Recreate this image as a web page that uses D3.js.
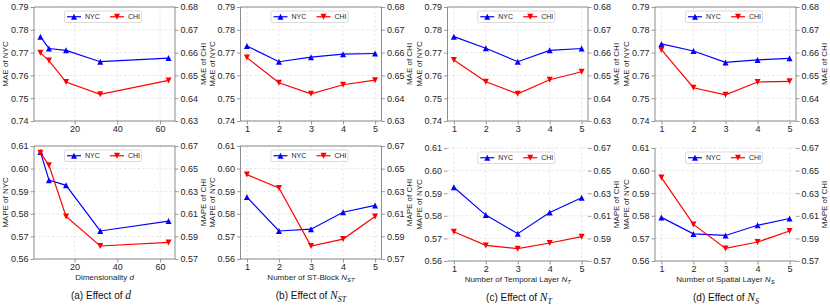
<!DOCTYPE html>
<html><head><meta charset="utf-8">
<script src="https://cdn.jsdelivr.net/npm/d3@7"></script>
<style>body{margin:0;background:#fff} svg{display:block}</style>
</head><body><svg id="c" width="830" height="307"></svg>
<script>
// ---------- data ----------
const dimX = [4, 8, 16, 32, 64];
const layerX = [1, 2, 3, 4, 5];
const dimTicks = [20, 40, 60];
const layerTicks = [1, 2, 3, 4, 5];
const maeNycTicks = [0.74, 0.75, 0.76, 0.77, 0.78, 0.79];
const maeChiTicks = [0.63, 0.64, 0.65, 0.66, 0.67, 0.68];
const mapeNycTicks = [0.56, 0.57, 0.58, 0.59, 0.60, 0.61];
const mapeChiTicks = [0.57, 0.59, 0.61, 0.63, 0.65, 0.67];
const seriesNames = ["NYC", "CHI"];

const maeNYC_d   = [0.7770, 0.7718, 0.7710, 0.7660, 0.7676];
const maeCHI_d   = [0.6599, 0.6565, 0.6471, 0.6417, 0.6478];
const maeNYC_NST = [0.7729, 0.7660, 0.7680, 0.7693, 0.7696];
const maeCHI_NST = [0.6578, 0.6468, 0.6419, 0.6459, 0.6479];
const maeNYC_NT  = [0.7770, 0.7719, 0.7660, 0.7710, 0.7718];
const maeCHI_NT  = [0.6568, 0.6472, 0.6419, 0.6481, 0.6516];
const maeNYC_NS  = [0.7738, 0.7707, 0.7657, 0.7668, 0.7675];
const maeCHI_NS  = [0.6613, 0.6446, 0.6415, 0.6471, 0.6474];

const mapeNYC_d   = [0.6074, 0.5949, 0.5926, 0.5724, 0.5768];
const mapeCHI_d   = [0.6641, 0.6529, 0.6076, 0.5815, 0.5847];
const mapeNYC_NST = [0.5874, 0.5724, 0.5732, 0.5807, 0.5837];
const mapeCHI_NST = [0.6447, 0.6329, 0.5815, 0.5876, 0.6076];
const mapeNYC_NT  = [0.5926, 0.5803, 0.5721, 0.5815, 0.5880];
const mapeCHI_NT  = [0.5959, 0.5838, 0.5809, 0.5859, 0.5915];
const mapeNYC_NS  = [0.5793, 0.5720, 0.5713, 0.5758, 0.5788];
const mapeCHI_NS  = [0.6438, 0.6024, 0.5811, 0.5868, 0.5965];

// ---------- layout ----------
const cols = [{l:34, r:175}, {l:240.5, r:381.5}, {l:447.5, r:588}, {l:655, r:796}];
const rowsTop = [{t:7, b:121}, {t:7, b:121}, {t:7, b:121}, {t:7, b:121}];
const rowsBot = [{t:146, b:259}, {t:146, b:259}, {t:148, b:261}, {t:148, b:261}];
const capCx = [101, 311, 519, 726];

const SANS = "'Liberation Sans', Arial, sans-serif";
const SERIF = "'Liberation Serif', 'Times New Roman', serif";
const BLUE = "#0000ff", RED = "#ff0000";
const SPINE = "#808080", TXT = "#262626";

const xSets = [
  {x: dimX, ticks: dimTicks, label: [["Dimensionality ", false], ["d", true]], cap: [["(a) Effect of ", false, false], ["d", true, false]]},
  {x: layerX, ticks: layerTicks, label: [["Number of ST-Block ", false], ["N", true], ["ST", true, true]], cap: [["(b) Effect of ", false], ["N", true], ["ST", true, true]]},
  {x: layerX, ticks: layerTicks, label: [["Number of Temporal Layer ", false], ["N", true], ["T", true, true]], cap: [["(c) Effect of ", false], ["N", true], ["T", true, true]]},
  {x: layerX, ticks: layerTicks, label: [["Number of Spatial Layer ", false], ["N", true], ["S", true, true]], cap: [["(d) Effect of ", false], ["N", true], ["S", true, true]]}
];
const maeNyc = [maeNYC_d, maeNYC_NST, maeNYC_NT, maeNYC_NS];
const maeChi = [maeCHI_d, maeCHI_NST, maeCHI_NT, maeCHI_NS];
const mapeNyc = [mapeNYC_d, mapeNYC_NST, mapeNYC_NT, mapeNYC_NS];
const mapeChi = [mapeCHI_d, mapeCHI_NST, mapeCHI_NT, mapeCHI_NS];
const allSp = {l:1, r:1, t:1, b:1};
const botSpines = [allSp, allSp, {l:0, r:0, t:0, b:1}, {l:1, r:0, t:0, b:1}];

const svg = d3.select("#c");

function tri(up) {
  const s = 3;
  return up ? `M0,${-s}L${s},${s}L${-s},${s}Z` : `M0,${s}L${s},${-s}L${-s},${-s}Z`;
}

function padDomain(arr) {
  const [a, b] = d3.extent(arr); const m = (b - a) * 0.05;
  return [a - m, b + m];
}

function panel(ci, box, nyc, chi, lTicks, rTicks, metric, spines, bottomRow) {
  const xs = xSets[ci];
  const c = cols[ci];
  const x = d3.scaleLinear().domain(padDomain(xs.x)).range([c.l, c.r]);
  const yL = d3.scaleLinear().domain(d3.extent(lTicks)).range([box.b, box.t]);
  const yR = d3.scaleLinear().domain(d3.extent(rTicks)).range([box.b, box.t]);
  const g = svg.append("g");

  // grid
  const grid = g.append("g").attr("stroke", "#dcdcdc").attr("stroke-width", 0.7).attr("stroke-dasharray", "2.5,2");
  lTicks.forEach(v => grid.append("line").attr("x1", c.l).attr("x2", c.r).attr("y1", yL(v)).attr("y2", yL(v)));
  xs.ticks.forEach(v => grid.append("line").attr("x1", x(v)).attr("x2", x(v)).attr("y1", box.t).attr("y2", box.b));

  // axes
  const fmt = d3.format(".2f");
  const ax = (sel) => {
    sel.select(".domain").remove();
    sel.selectAll(".tick line").attr("stroke", SPINE).attr("stroke-width", 0.8);
    sel.selectAll(".tick text").attr("fill", TXT).style("font-family", SANS).style("font-size", "9px");
  };
  g.append("g").attr("transform", `translate(${c.l},0)`)
    .call(d3.axisLeft(yL).tickValues(lTicks).tickFormat(fmt).tickSize(3.5).tickPadding(2)).call(ax);
  g.append("g").attr("transform", `translate(${c.r},0)`)
    .call(d3.axisRight(yR).tickValues(rTicks).tickFormat(fmt).tickSize(3.5).tickPadding(2)).call(ax);
  g.append("g").attr("transform", `translate(0,${box.b})`)
    .call(d3.axisBottom(x).tickValues(xs.ticks).tickFormat(d3.format("d")).tickSize(3.5).tickPadding(1.5)).call(ax);

  // spines
  const sp = g.append("g").attr("stroke", SPINE).attr("stroke-width", 0.9).attr("fill", "none");
  if (spines.l) sp.append("line").attr("x1", c.l).attr("x2", c.l).attr("y1", box.t).attr("y2", box.b);
  if (spines.r) sp.append("line").attr("x1", c.r).attr("x2", c.r).attr("y1", box.t).attr("y2", box.b);
  if (spines.t) sp.append("line").attr("x1", c.l).attr("x2", c.r).attr("y1", box.t).attr("y2", box.t);
  if (spines.b) sp.append("line").attr("x1", c.l).attr("x2", c.r).attr("y1", box.b).attr("y2", box.b);

  // y labels
  const cy = (box.t + box.b) / 2;
  g.append("text").attr("transform", `translate(${c.l - 28.5},${cy}) rotate(-90)`)
    .attr("text-anchor", "middle").attr("dominant-baseline", "central")
    .style("font-family", SANS).style("font-size", "8px").attr("fill", TXT).text(`${metric} of NYC`);
  g.append("text").attr("transform", `translate(${c.r + 28},${cy}) rotate(-90)`)
    .attr("text-anchor", "middle").attr("dominant-baseline", "central")
    .style("font-family", SANS).style("font-size", "8px").attr("fill", TXT).text(`${metric} of CHI`);

  // lines
  const series = [
    {vals: nyc, y: yL, color: BLUE, up: true},
    {vals: chi, y: yR, color: RED, up: false}
  ];
  series.forEach(s => {
    const line = d3.line().x((d, i) => x(xs.x[i])).y(d => s.y(d));
    g.append("path").datum(s.vals).attr("d", line).attr("fill", "none")
      .attr("stroke", s.color).attr("stroke-width", 1.2);
    g.selectAll(null).data(s.vals).enter().append("path")
      .attr("transform", (d, i) => `translate(${x(xs.x[i])},${s.y(d)})`)
      .attr("d", tri(s.up)).attr("fill", s.color);
  });

  // legend
  const lw = 77, lh = 11.5;
  const lx = (c.l + c.r) / 2 - 1.5 - lw / 2, ly = box.t + 4;
  const lg = g.append("g").attr("transform", `translate(${lx},${ly})`);
  lg.append("rect").attr("width", lw).attr("height", lh).attr("rx", 1.5)
    .attr("fill", "#fff").attr("fill-opacity", 0.85).attr("stroke", "#cccccc").attr("stroke-width", 0.7);
  [[BLUE, true, 2.5, seriesNames[0]], [RED, false, 45.5, seriesNames[1]]].forEach(([col, up, ox, name]) => {
    lg.append("line").attr("x1", ox).attr("x2", ox + 14).attr("y1", lh / 2).attr("y2", lh / 2)
      .attr("stroke", col).attr("stroke-width", 1.2);
    lg.append("path").attr("transform", `translate(${ox + 7},${lh / 2})`).attr("d", tri(up)).attr("fill", col);
    lg.append("text").attr("x", ox + 18).attr("y", lh / 2).attr("dominant-baseline", "central")
      .style("font-family", SANS).style("font-size", "7px").attr("fill", TXT).text(name);
  });

  if (bottomRow) {
    const xc = (c.l + c.r) / 2;
    const t = g.append("text").attr("x", xc).attr("y", box.b + 20.5).attr("text-anchor", "middle")
      .style("font-family", SANS).style("font-size", "8px").attr("fill", TXT);
    xs.label.forEach(([s, it, sub]) => {
      const ts = t.append("tspan").text(s);
      if (it) ts.style("font-style", "italic");
      if (sub) ts.attr("font-size", "6px").attr("dy", "2");
    });
    const cp = g.append("text").attr("x", capCx[ci]).attr("y", box.b + 40).attr("text-anchor", "middle")
      .style("font-family", SANS).style("font-size", "10px").attr("fill", "#111");
    xs.cap.forEach(([s, it, sub]) => {
      const ts = cp.append("tspan").text(s);
      if (it) ts.style("font-family", SERIF).style("font-style", "italic").attr("font-size", "11.5px");
      if (sub) ts.attr("font-size", "8px").attr("dy", "2.5");
    });
  }
}

for (let i = 0; i < 4; i++) {
  panel(i, rowsTop[i], maeNyc[i], maeChi[i], maeNycTicks, maeChiTicks, "MAE", allSp, false);
  panel(i, rowsBot[i], mapeNyc[i], mapeChi[i], mapeNycTicks, mapeChiTicks, "MAPE", botSpines[i], true);
}
</script></body></html>
